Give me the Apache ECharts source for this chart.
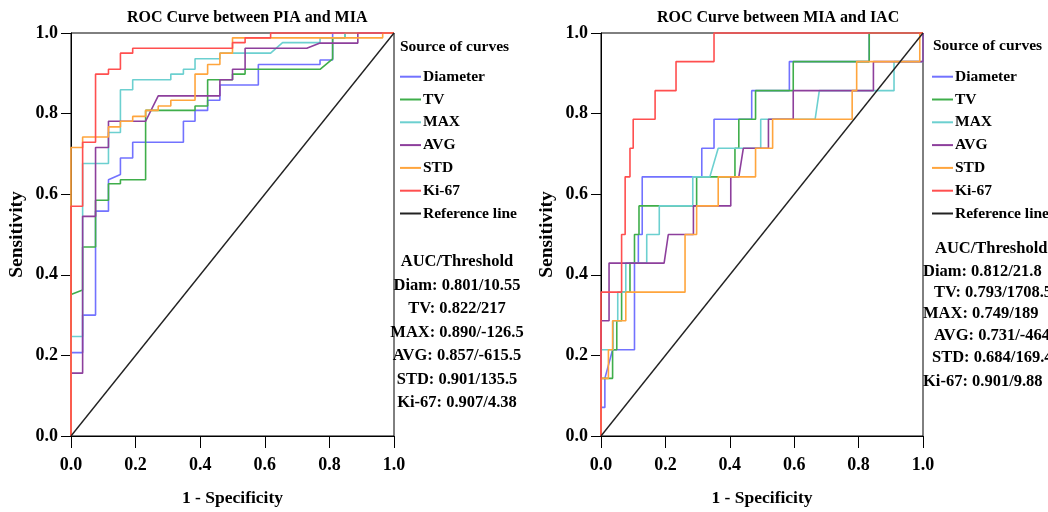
<!DOCTYPE html>
<html>
<head>
<meta charset="utf-8">
<script src="https://cdn.jsdelivr.net/npm/echarts@6/dist/echarts.min.js"></script>
<style>
  html, body { margin: 0; padding: 0; background: #fff; }
  #chart { width: 1048px; height: 512px; }
</style>
</head>
<body>
<div id="chart"></div>
<script>
// curve names and colours
const curveNames = ['Diameter', 'TV', 'MAX', 'AVG', 'STD', 'Ki-67', 'Reference line'];
const curveColors = ['#7272ff', '#3fae4a', '#6cd0d0', '#8d3f9c', '#ffa53d', '#ff4f4f', '#222222'];

// PIA vs MIA  ([1 - specificity, sensitivity])
const leftDiameter = [[0,0],[0,0.207],[0.036,0.207],[0.036,0.30],[0.076,0.30],[0.076,0.558],[0.116,0.558],[0.116,0.636],[0.153,0.649],[0.153,0.690],[0.191,0.690],[0.191,0.729],[0.348,0.729],[0.348,0.781],[0.384,0.781],[0.384,0.808],[0.423,0.808],[0.423,0.833],[0.461,0.833],[0.461,0.871],[0.58,0.871],[0.58,0.922],[0.771,0.922],[0.771,0.933],[0.81,0.933],[0.81,1],[1,1]];
const leftTV = [[0,0],[0,0.351],[0.036,0.362],[0.036,0.469],[0.076,0.469],[0.076,0.585],[0.116,0.585],[0.116,0.626],[0.153,0.626],[0.153,0.636],[0.231,0.636],[0.231,0.808],[0.384,0.808],[0.384,0.819],[0.423,0.819],[0.423,0.884],[0.5,0.884],[0.5,0.898],[0.539,0.898],[0.539,0.910],[0.771,0.910],[0.81,0.936],[0.81,0.988],[0.848,0.988],[0.848,1],[1,1]];
const leftMAX = [[0,0],[0,0.247],[0.036,0.247],[0.036,0.676],[0.116,0.676],[0.116,0.753],[0.153,0.753],[0.153,0.859],[0.191,0.859],[0.191,0.884],[0.309,0.884],[0.309,0.898],[0.348,0.898],[0.348,0.910],[0.384,0.910],[0.384,0.936],[0.461,0.936],[0.461,0.950],[0.618,0.950],[0.655,0.976],[0.771,0.976],[0.771,0.988],[0.848,0.988],[0.848,1],[1,1]];
const leftAVG = [[0,0],[0,0.156],[0.036,0.156],[0.036,0.545],[0.076,0.545],[0.076,0.716],[0.116,0.716],[0.116,0.781],[0.231,0.781],[0.27,0.844],[0.461,0.844],[0.461,0.884],[0.5,0.884],[0.5,0.910],[0.539,0.910],[0.539,0.962],[0.73,0.962],[0.771,0.975],[0.888,0.975],[0.888,1],[1,1]];
const leftSTD = [[0,0],[0,0.716],[0.036,0.716],[0.036,0.742],[0.116,0.742],[0.116,0.767],[0.153,0.767],[0.153,0.781],[0.191,0.781],[0.191,0.793],[0.231,0.793],[0.231,0.808],[0.27,0.808],[0.27,0.819],[0.309,0.819],[0.309,0.833],[0.384,0.833],[0.384,0.898],[0.423,0.898],[0.423,0.922],[0.461,0.922],[0.461,0.950],[0.5,0.950],[0.5,0.988],[0.965,0.988],[0.965,1],[1,1]];
const leftKi67 = [[0,0],[0,0.570],[0.036,0.570],[0.036,0.729],[0.076,0.729],[0.076,0.898],[0.116,0.898],[0.116,0.910],[0.153,0.910],[0.153,0.950],[0.191,0.950],[0.191,0.962],[0.5,0.962],[0.5,0.976],[0.539,0.976],[0.539,0.988],[0.618,0.988],[0.618,1],[1,1]];

// MIA vs IAC
const rightDiameter = [[0,0],[0,0.071],[0.012,0.071],[0.012,0.143],[0.036,0.214],[0.104,0.214],[0.104,0.429],[0.116,0.429],[0.116,0.5],[0.128,0.5],[0.128,0.643],[0.313,0.643],[0.313,0.714],[0.351,0.714],[0.351,0.786],[0.468,0.786],[0.468,0.857],[0.585,0.857],[0.585,0.929],[0.833,0.929],[0.833,1],[1,1]];
const rightTV = [[0,0],[0,0.143],[0.036,0.143],[0.036,0.214],[0.049,0.214],[0.049,0.286],[0.064,0.286],[0.064,0.357],[0.09,0.357],[0.09,0.429],[0.104,0.429],[0.104,0.5],[0.118,0.5],[0.118,0.571],[0.297,0.571],[0.297,0.643],[0.416,0.643],[0.416,0.714],[0.428,0.714],[0.428,0.786],[0.48,0.786],[0.48,0.857],[0.597,0.857],[0.597,0.929],[0.833,0.929],[0.833,1],[1,1]];
const rightMAX = [[0,0],[0,0.214],[0.038,0.214],[0.038,0.286],[0.052,0.286],[0.052,0.357],[0.077,0.357],[0.077,0.429],[0.142,0.429],[0.142,0.5],[0.181,0.5],[0.181,0.571],[0.285,0.571],[0.285,0.643],[0.338,0.643],[0.364,0.714],[0.496,0.714],[0.496,0.786],[0.665,0.786],[0.678,0.857],[0.91,0.857],[0.91,0.929],[1,0.929],[1,1]];
const rightAVG = [[0,0],[0,0.286],[0.025,0.286],[0.025,0.429],[0.196,0.429],[0.209,0.5],[0.287,0.5],[0.287,0.571],[0.403,0.571],[0.403,0.643],[0.428,0.643],[0.442,0.714],[0.52,0.714],[0.52,0.786],[0.597,0.786],[0.597,0.857],[0.846,0.857],[0.846,0.929],[1,0.929],[1,1]];
const rightSTD = [[0,0],[0,0.143],[0.023,0.143],[0.023,0.214],[0.036,0.214],[0.036,0.286],[0.077,0.286],[0.077,0.357],[0.261,0.357],[0.261,0.5],[0.297,0.5],[0.297,0.571],[0.364,0.571],[0.364,0.643],[0.48,0.643],[0.48,0.714],[0.533,0.714],[0.533,0.786],[0.78,0.786],[0.78,0.857],[0.794,0.857],[0.794,0.929],[0.99,0.929],[0.99,1],[1,1]];
const rightKi67 = [[0,0],[0,0.357],[0.064,0.357],[0.064,0.5],[0.075,0.5],[0.075,0.643],[0.09,0.643],[0.09,0.714],[0.1,0.714],[0.1,0.786],[0.168,0.786],[0.168,0.857],[0.233,0.857],[0.233,0.929],[0.351,0.929],[0.351,1],[1,1]];

const referenceLine = [[0,0],[1,1]];

// text beside the plots
const leftAuc = ['AUC/Threshold', 'Diam: 0.801/10.55', 'TV: 0.822/217', 'MAX: 0.890/-126.5', 'AVG: 0.857/-615.5', 'STD: 0.901/135.5', 'Ki-67: 0.907/4.38'];
const rightAuc = ['AUC/Threshold', 'Diam: 0.812/21.8', 'TV: 0.793/1708.5', 'MAX: 0.749/189', 'AVG: 0.731/-464', 'STD: 0.684/169.4', 'Ki-67: 0.901/9.88'];

const leftCurves = [leftDiameter, leftTV, leftMAX, leftAVG, leftSTD, leftKi67, referenceLine];
const rightCurves = [rightDiameter, rightTV, rightMAX, rightAVG, rightSTD, rightKi67, referenceLine];

const FONT = '"Liberation Serif", "Times New Roman", serif';
const txt = (size) => ({ fontFamily: FONT, fontWeight: 'bold', fontSize: size, color: '#000' });

function makeX(i) {
  return {
    gridIndex: i, type: 'value', min: 0, max: 1, interval: 0.2,
    name: '1 - Specificity', nameLocation: 'middle', nameGap: 53,
    nameTextStyle: txt(17.5),
    axisLine: { show: true, lineStyle: { color: '#000', width: 1 } },
    axisTick: { show: true, length: 12, lineStyle: { color: '#000' } },
    axisLabel: Object.assign(txt(18), { margin: 20, formatter: v => v.toFixed(1) }),
    splitLine: { show: false }
  };
}
function makeY(i) {
  return {
    gridIndex: i, type: 'value', min: 0, max: 1, interval: 0.2,
    name: 'Sensitivity', nameLocation: 'middle', nameGap: 44,
    nameTextStyle: txt(19.5),
    axisLine: { show: true, lineStyle: { color: '#000', width: 1 } },
    axisTick: { show: true, length: 10, lineStyle: { color: '#000' } },
    axisLabel: Object.assign(txt(18), { margin: 13, formatter: v => v.toFixed(1) }),
    splitLine: { show: false }
  };
}

const series = [];
[leftCurves, rightCurves].forEach((curves, g) => {
  curves.forEach((d, k) => {
    series.push({
      name: curveNames[k], type: 'line', xAxisIndex: g, yAxisIndex: g,
      data: d, showSymbol: false, symbol: 'none', clip: false, animation: false,
      lineStyle: { color: curveColors[k], width: k === 6 ? 1.4 : 1.6 },
      itemStyle: { color: curveColors[k] }
    });
  });
});

function legendAt(left) {
  return {
    data: curveNames, orient: 'vertical', left: left, top: 67.7, padding: 0,
    itemWidth: 21, itemHeight: 2, icon: 'rect', itemGap: 4.8,
    selectedMode: false,
    textStyle: Object.assign(txt(15.5), { lineHeight: 18, padding: [0, 0, 0, -3] })
  };
}

const graphics = [];
const leftY = [262, 286, 309, 333, 356, 380, 403];
leftAuc.forEach((t, i) => {
  graphics.push({ type: 'text', style: { text: t, x: 457, y: leftY[i], align: 'center', verticalAlign: 'middle',
    fontFamily: FONT, fontWeight: 'bold', fontSize: 16.5, fill: '#000' } });
});
const rightY = [249, 272, 293, 314, 336, 358, 382];
const rightX = [935, 923, 934, 923, 934, 932, 923];
rightAuc.forEach((t, i) => {
  graphics.push({ type: 'text', style: { text: t, x: rightX[i], y: rightY[i], align: 'left', verticalAlign: 'middle',
    fontFamily: FONT, fontWeight: 'bold', fontSize: 16.5, fill: '#000' } });
});

const chart = echarts.init(document.getElementById('chart'), null, { renderer: 'canvas' });
chart.setOption({
  backgroundColor: '#fff',
  animation: false,
  title: [
    { text: 'ROC Curve between PIA and MIA', left: 127, top: 10, padding: 0, textStyle: txt(16) },
    { text: 'ROC Curve between MIA and IAC', left: 657, top: 10, padding: 0, textStyle: txt(16) },
    { text: 'Source of curves', left: 400, top: 39, padding: 0, textStyle: txt(15.5) },
    { text: 'Source of curves', left: 933, top: 38, padding: 0, textStyle: txt(15.5) }
  ],
  legend: [legendAt(400), legendAt(932)],
  grid: [
    { left: 71, top: 33, width: 323, height: 404, show: true, borderColor: '#000', borderWidth: 1, backgroundColor: 'transparent' },
    { left: 601, top: 33, width: 322, height: 404, show: true, borderColor: '#000', borderWidth: 1, backgroundColor: 'transparent' }
  ],
  xAxis: [makeX(0), makeX(1)],
  yAxis: [makeY(0), makeY(1)],
  series: series,
  graphic: graphics
});
</script>
</body>
</html>
